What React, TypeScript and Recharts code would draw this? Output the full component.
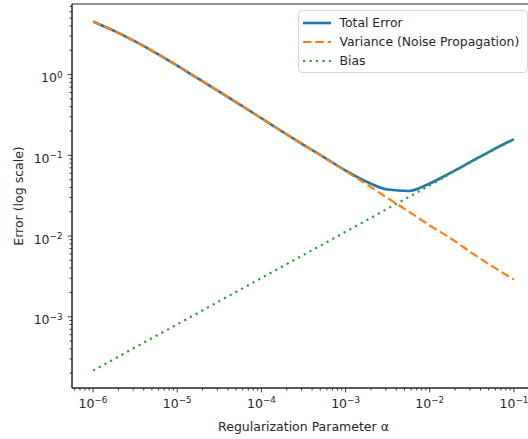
import React from "react";
import {Legend, Line, LineChart, ReferenceArea, XAxis, YAxis} from "recharts";

// regularization parameter samples (quarter-decade steps)
const alphas = [1e-6, 1.78e-6, 3.16e-6, 5.62e-6, 1e-5, 1.78e-5, 3.16e-5, 5.62e-5, 1e-4, 1.78e-4, 3.16e-4,
    5.62e-4, 1e-3, 1.78e-3, 3.16e-3, 5.62e-3, 1e-2, 1.78e-2, 3.16e-2, 5.62e-2, 1e-1];
const totalError = [4.56, 3.48, 2.58, 1.845, 1.29, 0.891, 0.614, 0.423, 0.288, 0.196, 0.135,
    0.0937, 0.0648, 0.047, 0.0377, 0.0362, 0.0448, 0.061, 0.0845, 0.117, 0.159];
const variance = [4.56, 3.48, 2.58, 1.845, 1.29, 0.891, 0.614, 0.423, 0.288, 0.196, 0.135,
    0.0933, 0.0637, 0.0437, 0.0295, 0.0201, 0.0135, 0.00933, 0.00617, 0.00417, 0.00288];
const bias = [2.15e-4, 2.99e-4, 4.17e-4, 5.79e-4, 8.05e-4, 1.12e-3, 1.56e-3, 2.17e-3, 3.02e-3, 4.2e-3, 5.83e-3,
    8.1e-3, 0.0113, 0.0157, 0.0219, 0.0304, 0.0425, 0.0598, 0.0833, 0.116, 0.157];

const xMajor = [-6, -5, -4, -3, -2, -1];
const yMajor = [-3, -2, -1, 0];

const xDomain = [10 ** -6.25, 10 ** -0.75];
const yDomain = [10 ** -3.883, 10 ** 0.875];

const series = [
    {key: 'total', name: 'Total Error', color: '#1f77b4', width: 2.6, dash: undefined as string | undefined},
    {key: 'variance', name: 'Variance (Noise Propagation)', color: '#ff7f0e', width: 2.2, dash: '8.5 3.8'},
    {key: 'bias', name: 'Bias', color: '#2ca02c', width: 2.2, dash: '2.2 4.3'},
];

const data = alphas.map((alpha, i) => ({
    alpha,
    total: totalError[i],
    variance: variance[i],
    bias: bias[i],
}));

// major + minor log ticks inside a domain
const logTicks = (domain: number[]) => {
    const out: number[] = [];
    const lo = Math.floor(Math.log10(domain[0]));
    const hi = Math.ceil(Math.log10(domain[1]));
    for (let e = lo; e <= hi; e++) {
        for (let m = 1; m <= 9; m++) {
            const v = m * 10 ** e;
            if (v >= domain[0] && v <= domain[1]) out.push(v);
        }
    }
    return out;
};

const FONT = '"DejaVu Sans", sans-serif';
const INK = '#262626';

const exponentOf = (v: number) => {
    const e = Math.round(Math.log10(v));
    return Math.abs(v / 10 ** e - 1) < 1e-6 ? e : null;
};

const fmtExp = (e: number) => (e < 0 ? '\u2212' + Math.abs(e) : String(e));

const XTick = (props: any) => {
    const {x, y, payload} = props;
    const e = exponentOf(payload.value);
    const major = e !== null && xMajor.includes(e);
    return (
        <g>
            <line x1={x} x2={x} y1={y} y2={y + (major ? 4.4 : 2.5)} stroke={INK} strokeWidth={0.9}/>
            {major && (
                <text x={x} y={y + 19.5} textAnchor="middle" fontSize={12.5} fontFamily={FONT} fill={INK}>
                    10<tspan dy={-4.5} fontSize={8.8}>{fmtExp(e as number)}</tspan>
                </text>
            )}
        </g>
    );
};

const YTick = (props: any) => {
    const {x, y, payload} = props;
    const e = exponentOf(payload.value);
    const major = e !== null && yMajor.includes(e);
    return (
        <g>
            <line x1={x} x2={x - (major ? 4.4 : 2.5)} y1={y} y2={y} stroke={INK} strokeWidth={0.9}/>
            {major && (
                <text x={x - 9.5} y={y + 7.5} textAnchor="end" fontSize={12.5} fontFamily={FONT} fill={INK}>
                    10<tspan dy={-4.5} fontSize={8.8}>{fmtExp(e as number)}</tspan>
                </text>
            )}
        </g>
    );
};

const LegendBox = () => (
    <div style={{
        border: '1px solid #d6d6d6',
        borderRadius: 4,
        background: 'rgba(255,255,255,0.8)',
        padding: '2px 6px 2px 4px',
        fontFamily: FONT,
        fontSize: 12.4,
        color: INK,
        width: 218,
    }}>
        {series.map(s => (
            <div key={s.key} style={{display: 'flex', alignItems: 'center', height: 19}}>
                <svg width={28} height={6} style={{marginRight: 8.5}}>
                    <line x1={0} x2={28} y1={3} y2={3} stroke={s.color} strokeWidth={s.width}
                          strokeDasharray={s.dash}/>
                </svg>
                <span style={{whiteSpace: 'nowrap'}}>{s.name}</span>
            </div>
        ))}
    </div>
);

export default function App() {
    return (
        <div style={{position: 'fixed', left: 0, top: 0, width: 528, height: 439, overflow: 'hidden', background: '#fff'}}>
            <LineChart width={560} height={439} data={data} margin={{top: 4, right: 25, left: 0, bottom: 0}}>
                <XAxis dataKey="alpha" type="number" scale="log" domain={xDomain} allowDataOverflow
                       ticks={logTicks(xDomain)} interval={0} tick={<XTick/>} tickLine={false}
                       tickSize={0} tickMargin={0} height={51}
                       axisLine={{stroke: INK, strokeWidth: 1}}
                       label={{value: 'Regularization Parameter \u03b1', position: 'insideBottom', offset: 8,
                           style: {fontFamily: FONT, fontSize: 12.5, fill: INK}}}/>
                <YAxis type="number" scale="log" domain={yDomain} allowDataOverflow
                       ticks={logTicks(yDomain)} interval={0} tick={<YTick/>} tickLine={false}
                       tickSize={0} tickMargin={0} width={72}
                       axisLine={{stroke: INK, strokeWidth: 1}}
                       label={{value: 'Error (log scale)', angle: -90, position: 'insideLeft', offset: 19,
                           style: {fontFamily: FONT, fontSize: 12.5, fill: INK, textAnchor: 'middle'}}}/>
                {series.map(s => (
                    <Line key={s.key} dataKey={s.key} name={s.name} type="monotone" stroke={s.color}
                          strokeWidth={s.width} strokeDasharray={s.dash} dot={false} activeDot={false}
                          isAnimationActive={false}/>
                ))}
                <ReferenceArea x1={xDomain[0]} x2={xDomain[1]} y1={yDomain[0]} y2={yDomain[1]}
                               fill="none" fillOpacity={0} stroke={INK} strokeWidth={1} ifOverflow="visible"/>
                <Legend layout="vertical" verticalAlign="middle" align="center" content={<LegendBox/>}
                        wrapperStyle={{top: 10, left: 298, width: 'auto'}}/>
            </LineChart>
        </div>
    );
}
